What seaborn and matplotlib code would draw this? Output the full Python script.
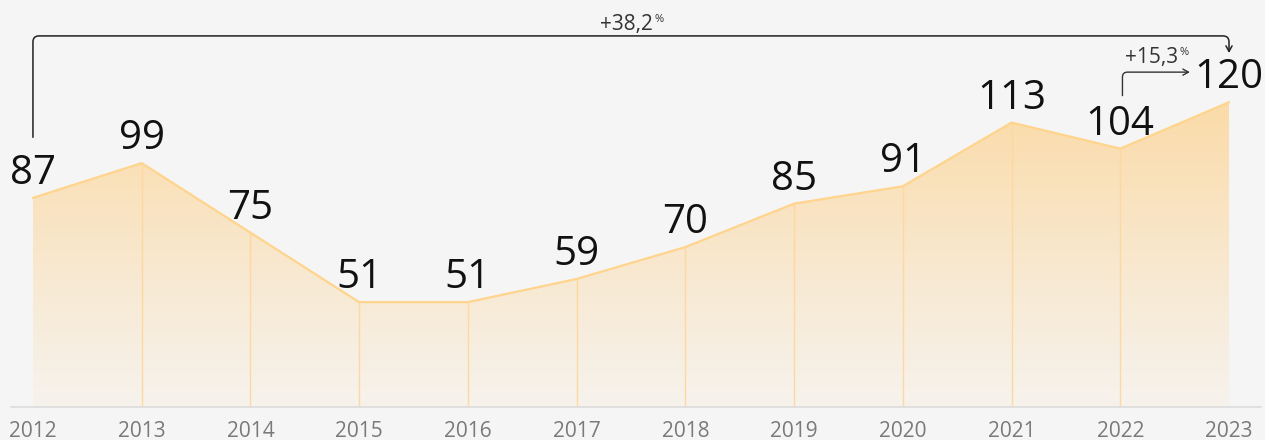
import numpy as np
import pandas as pd
import matplotlib
matplotlib.use("Agg")
import matplotlib.pyplot as plt
import seaborn as sns
from matplotlib.path import Path
from matplotlib.patches import FancyArrowPatch, Polygon

# Series
years = [2012, 2013, 2014, 2015, 2016, 2017, 2018, 2019, 2020, 2021, 2022, 2023]
values = [87, 99, 75, 51, 51, 59, 70, 85, 91, 113, 104, 120]
year_labels = [str(y) for y in years]
growth_total = "+38,2"
growth_last = "+15,3"

BG = "#f5f5f5"
LINE = "#ffd48c"
TEXT = "#111111"

sns.set_style("white", {"axes.facecolor": BG, "figure.facecolor": BG})
plt.rcParams["font.family"] = ["Open Sans", "DejaVu Sans"]

fig = plt.figure(figsize=(12.65, 4.4), dpi=100)
ax = fig.add_axes([0, 33 / 440, 1, 407 / 440])

df = pd.DataFrame({"year": years, "value": values})

x0, x1 = 2011.697, 2023.331
base, ytop = 14.8, 155.3
ax.set_xlim(x0, x1)
ax.set_ylim(base, ytop)

# gradient area under the line
grad_h = 256
t = np.linspace(0, 1, grad_h)[:, None]           # 0 at bottom, 1 at top
c_top = np.array([251, 219, 168]) / 255
c_bot = np.array([246, 242, 236]) / 255
img = (c_bot + (c_top - c_bot) * (t ** 1.1))[:, None, :].repeat(2, axis=1)
im = ax.imshow(img, extent=[years[0], years[-1], base, max(values)],
               origin="lower", aspect="auto", zorder=1, interpolation="bilinear")
poly = Polygon(list(zip(years, values)) + [(years[-1], base), (years[0], base)],
               closed=True, facecolor="none", edgecolor="none",
               transform=ax.transData)
ax.add_patch(poly)
im.set_clip_path(poly)

# year dividers
ax.vlines(years[1:-1], base, values[1:-1], color="#fdd8a0", lw=1, zorder=2)

sns.lineplot(data=df, x="year", y="value", ax=ax, color=LINE, lw=1.6,
             zorder=3, legend=False)

# baseline
ax.plot([2011.80, 2023.295], [base, base], color="#dcdcdc", lw=1.2,
        zorder=4, clip_on=False)

for s in ax.spines.values():
    s.set_visible(False)
ax.set_xlabel("")
ax.set_ylabel("")
ax.set_yticks([])
ax.set_xticks(years)
ax.set_xticklabels(year_labels, fontsize=15, color="#7a7a7a")
ax.tick_params(axis="x", length=0, pad=10)

# value labels
for x, v in zip(years, values):
    ax.annotate(str(v), (x, v), xytext=(0, 14), textcoords="offset pixels",
                ha="center", va="baseline", fontsize=29, color=TEXT, zorder=5)

# rounded bracket helper (radius in pixels)
px_x = 1265 / (x1 - x0)
px_y = 407 / (ytop - base)


def bracket(points, r_px, color, lw):
    verts = [points[0]]
    codes = [Path.MOVETO]
    for i in range(1, len(points) - 1):
        p_prev, p, p_next = map(np.array, (points[i - 1], points[i], points[i + 1]))
        d_in_px = (p - p_prev) * [px_x, px_y]
        d_out_px = (p_next - p) * [px_x, px_y]
        u_in = d_in_px / np.linalg.norm(d_in_px)
        u_out = d_out_px / np.linalg.norm(d_out_px)
        a = p - u_in * r_px / [px_x, px_y]
        b = p + u_out * r_px / [px_x, px_y]
        verts += [tuple(a), tuple(p), tuple(b)]
        codes += [Path.LINETO, Path.CURVE3, Path.CURVE3]
    verts.append(points[-1])
    codes.append(Path.LINETO)
    arr = FancyArrowPatch(path=Path(verts, codes),
                          arrowstyle="->,head_length=4,head_width=2.2",
                          color=color, lw=lw, transform=ax.transData,
                          mutation_scale=1, zorder=6, clip_on=False)
    ax.add_patch(arr)


bracket([(2012, 107.9), (2012, 142.9), (2023, 142.9), (2023, 137.0)], 6, "#222222", 1.1)
bracket([(2022.02, 122.3), (2022.02, 130.4), (2022.64, 130.4)], 5, "#333333", 1.0)


def growth_label(x, y, txt):
    t = ax.text(x, y, txt, ha="center", va="baseline", fontsize=15,
                color="#333333", zorder=6)
    fig.canvas.draw()
    bb = t.get_window_extent()
    ax.annotate("%", (bb.x1, bb.y1), xycoords="figure pixels", xytext=(1, -11),
                textcoords="offset pixels", ha="left", va="bottom", fontsize=8,
                color="#333333")


growth_label(2017.46, 144.9, growth_total)
growth_label(2022.29, 133.5, growth_last)

fig.savefig("out.png", dpi=100, facecolor=BG)
